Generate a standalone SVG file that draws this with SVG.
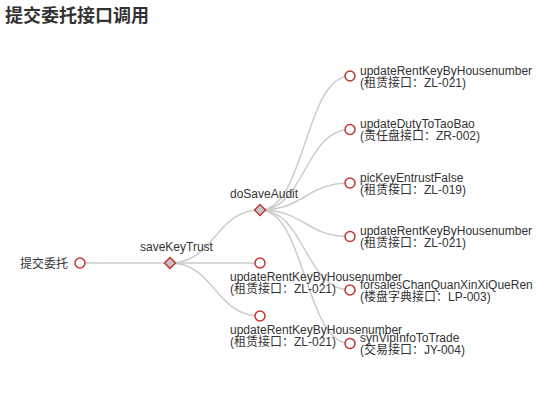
<svg xmlns="http://www.w3.org/2000/svg" width="550" height="420" viewBox="0 0 550 420">
<style>
.link{fill:none;stroke:#ccc;stroke-width:1.5}
.leaf{fill:#fff;stroke:#c23531;stroke-width:1.5}
.dia{fill:#c4c4cc;stroke:#c23531;stroke-width:1.5}
text{font-family:"Liberation Sans","Noto Sans CJK SC",sans-serif;font-size:12px;fill:#333}
.title{font-size:18px;font-weight:bold}
</style>
<rect width="550" height="420" fill="#fff"/>
<text class="title" x="5" y="22">提交委托接口调用</text>
<g id="connectors">
<path class="link" d="M80,263 L170,263"/>
<path class="link" d="M170,263 C215,263 215,210 260,210"/>
<path class="link" d="M170,263 L260,263"/>
<path class="link" d="M170,263 C215,263 215,316 260,316"/>
<path class="link" d="M260,210 C305,210 305,76 350,76"/>
<path class="link" d="M260,210 C305,210 305,129.5 350,129.5"/>
<path class="link" d="M260,210 C305,210 305,183 350,183"/>
<path class="link" d="M260,210 C305,210 305,236.5 350,236.5"/>
<path class="link" d="M260,210 C305,210 305,290 350,290"/>
<path class="link" d="M260,210 C305,210 305,343.5 350,343.5"/>
</g>
<g id="root">
<circle class="leaf" cx="80" cy="263" r="5"/>
<text x="68" y="267.5" text-anchor="end">提交委托</text>
</g>
<g id="saveKeyTrust">
<path class="dia" d="M170,257.5 L175.5,263 L170,268.5 L164.5,263 Z"/>
<text x="140" y="251">saveKeyTrust</text>
</g>
<g id="doSaveAudit">
<path class="dia" d="M260,204.5 L265.5,210 L260,215.5 L254.5,210 Z"/>
<text x="230" y="198">doSaveAudit</text>
</g>
<g id="skt-update1">
<circle class="leaf" cx="260" cy="263" r="5"/>
<text x="230" y="280.5">updateRentKeyByHousenumber</text>
<text x="230" y="292.5">(租赁接口：ZL-021)</text>
</g>
<g id="skt-update2">
<circle class="leaf" cx="260" cy="316" r="5"/>
<text x="230" y="333.5">updateRentKeyByHousenumber</text>
<text x="230" y="345.5">(租赁接口：ZL-021)</text>
</g>
<g id="dsa-1">
<circle class="leaf" cx="350" cy="76" r="5"/>
<text x="360" y="74.5">updateRentKeyByHousenumber</text>
<text x="360" y="86.5">(租赁接口：ZL-021)</text>
</g>
<g id="dsa-2">
<circle class="leaf" cx="350" cy="129.5" r="5"/>
<text x="360" y="128">updateDutyToTaoBao</text>
<text x="360" y="140">(责任盘接口：ZR-002)</text>
</g>
<g id="dsa-3">
<circle class="leaf" cx="350" cy="183" r="5"/>
<text x="360" y="181.5">picKeyEntrustFalse</text>
<text x="360" y="193.5">(租赁接口：ZL-019)</text>
</g>
<g id="dsa-4">
<circle class="leaf" cx="350" cy="236.5" r="5"/>
<text x="360" y="235">updateRentKeyByHousenumber</text>
<text x="360" y="247">(租赁接口：ZL-021)</text>
</g>
<g id="dsa-5">
<circle class="leaf" cx="350" cy="290" r="5"/>
<text x="360" y="288.5">forsalesChanQuanXinXiQueRen</text>
<text x="360" y="300.5">(楼盘字典接口：LP-003)</text>
</g>
<g id="dsa-6">
<circle class="leaf" cx="350" cy="343.5" r="5"/>
<text x="360" y="342">synVipInfoToTrade</text>
<text x="360" y="354">(交易接口：JY-004)</text>
</g>
</svg>
